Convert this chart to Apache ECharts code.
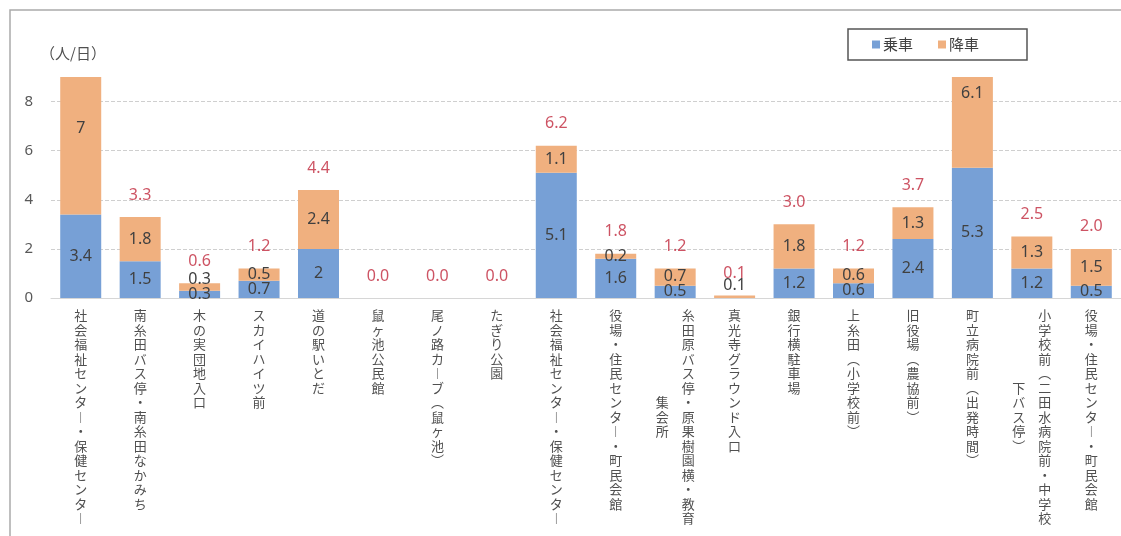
<!DOCTYPE html>
<html>
<head>
<meta charset="utf-8">
<script src="https://cdn.jsdelivr.net/npm/echarts@6/dist/echarts.min.js"></script>
<style>
  html, body { margin: 0; padding: 0; background: #fff; }
  #main { width: 1121px; height: 536px; }
</style>
</head>
<body>
<div id="main"></div>
<script>
// stop names; "\n" separates a second (left) column of vertical text
const categories = [
  '社会福祉センター・保健センター',
  '南糸田バス停・南糸田なかみち',
  '木の実団地入口',
  'スカイハイツ前',
  '道の駅いとだ',
  '鼠ヶ池公民館',
  '尾ノ路カーブ（鼠ヶ池）',
  'たぎり公園',
  '社会福祉センター・保健センター',
  '役場・住民センター・町民会館',
  '糸田原バス停・原果樹園横・教育\n集会所',
  '真光寺グラウンド入口',
  '銀行横駐車場',
  '上糸田（小学校前）',
  '旧役場（農協前）',
  '町立病院前（出発時間）',
  '小学校前（二田水病院前・中学校\n下バス停）',
  '役場・住民センター・町民会館'
];
const boarding = [3.4, 1.5, 0.3, 0.7, 2, 0, 0, 0, 5.1, 1.6, 0.5, 0, 1.2, 0.6, 2.4, 5.3, 1.2, 0.5];
const alighting = [7, 1.8, 0.3, 0.5, 2.4, 0, 0, 0, 1.1, 0.2, 0.7, 0.1, 1.8, 0.6, 1.3, 6.1, 1.3, 1.5];
// totals printed above the bars (none printed where the bar runs off the top)
const totals = [null, 3.3, 0.6, 1.2, 4.4, 0.0, 0.0, 0.0, 6.2, 1.8, 1.2, 0.1, 3.0, 1.2, 3.7, null, 2.5, 2.0];
const yMax = 9;

const vert = { '（': '︵', '）': '︶', 'ー': '︱' };
const toVertical = (name) => {
  const cols = name.split('\n').map((s) => Array.from(s).map((c) => vert[c] || c));
  const main = cols[0];
  if (cols.length === 1) return main.join('\n');
  const sub = cols[1];
  const start = Math.floor((main.length - sub.length) / 2);
  return main
    .map((c, i) => {
      const s = i >= start && i - start < sub.length ? sub[i - start] : '　';
      return s + '　' + c;
    })
    .join('\n');
};

const chart = echarts.init(document.getElementById('main'));

const option = {
  animation: false,
  textStyle: { fontFamily: '"Noto Sans", "Noto Sans CJK JP", sans-serif' },
  graphic: [
    {
      type: 'rect',
      shape: { x: 10, y: 10, width: 1200, height: 600 },
      style: { fill: 'none', stroke: '#aaaaaa', lineWidth: 1.5 },
      silent: true
    },
    {
      type: 'text',
      x: 40,
      y: 53,
      style: {
        text: '（人/日）',
        fill: '#505050',
        font: '15px "Noto Sans CJK JP"',
        verticalAlign: 'middle'
      }
    }
  ],
  legend: {
    data: ['乗車', '降車'],
    left: 848,
    top: 29,
    padding: [8, 48, 8, 24],
    borderColor: '#555',
    borderWidth: 1.5,
    icon: 'rect',
    itemWidth: 8,
    itemHeight: 8,
    itemGap: 25,
    textStyle: { fontSize: 15, color: '#404040', fontFamily: '"Noto Sans CJK JP"', padding: [0, 0, 0, -2] }
  },
  grid: { left: 51, top: 77, width: 1071, bottom: 238, containLabel: false },
  xAxis: {
    type: 'category',
    data: categories,
    axisLine: { lineStyle: { color: '#d6d6d6' } },
    axisTick: { show: false },
    axisLabel: {
      interval: 0,
      margin: 10,
      fontSize: 13,
      lineHeight: 14.5,
      color: '#505050',
      fontFamily: '"Noto Sans CJK JP"',
      formatter: toVertical
    }
  },
  yAxis: {
    type: 'value',
    min: 0,
    max: yMax,
    interval: 2,
    axisLine: { show: false },
    axisTick: { show: false },
    axisLabel: { fontSize: 15, color: '#595959', margin: 18, showMaxLabel: false },
    splitLine: { showMaxLine: false, lineStyle: { color: '#cfcfcf', type: [4, 2] } }
  },
  series: [
    {
      name: '乗車',
      type: 'bar',
      stack: 'all',
      barWidth: 41,
      data: boarding,
      itemStyle: { color: '#77a0d6' },
      label: {
        show: true,
        position: 'inside',
        fontSize: 16,
        color: '#404040',
        formatter: (p) => (p.value > 0 ? String(p.value) : '')
      }
    },
    {
      name: '降車',
      type: 'bar',
      stack: 'all',
      barWidth: 41,
      data: alighting,
      itemStyle: { color: '#f0b07f' },
      label: {
        show: true,
        position: 'inside',
        fontSize: 16,
        color: '#404040',
        formatter: (p) => (p.value > 0 ? String(p.value) : '')
      }
    },
    {
      name: '合計',
      type: 'scatter',
      data: totals,
      symbolSize: 0,
      silent: true,
      label: {
        show: true,
        position: 'top',
        distance: 14,
        fontSize: 16,
        color: '#c0283c',
        formatter: (p) => Number(p.value).toFixed(1)
      }
    }
  ]
};

chart.setOption(option);

// place the 降車 labels like the original: centred on the full (unclipped) segment,
// and lifted clear of the 乗車 label / axis when the segment is thin
const py = (v) => chart.convertToPixel({ yAxisIndex: 0 }, v);
const alightItems = alighting.map((v, i) => {
  const b = boarding[i];
  const t = b + v;
  const natural = (py(b) + py(Math.min(t, yMax))) / 2;
  let want = (py(b) + py(t)) / 2;
  if (b > 0) want = Math.min(want, (py(0) + py(b)) / 2 - 15);
  want = Math.min(want, py(0) - 13);
  return { value: v, label: { offset: [0, want - natural] } };
});
chart.setOption({ series: [{}, { data: alightItems }, {}] });
</script>
</body>
</html>
